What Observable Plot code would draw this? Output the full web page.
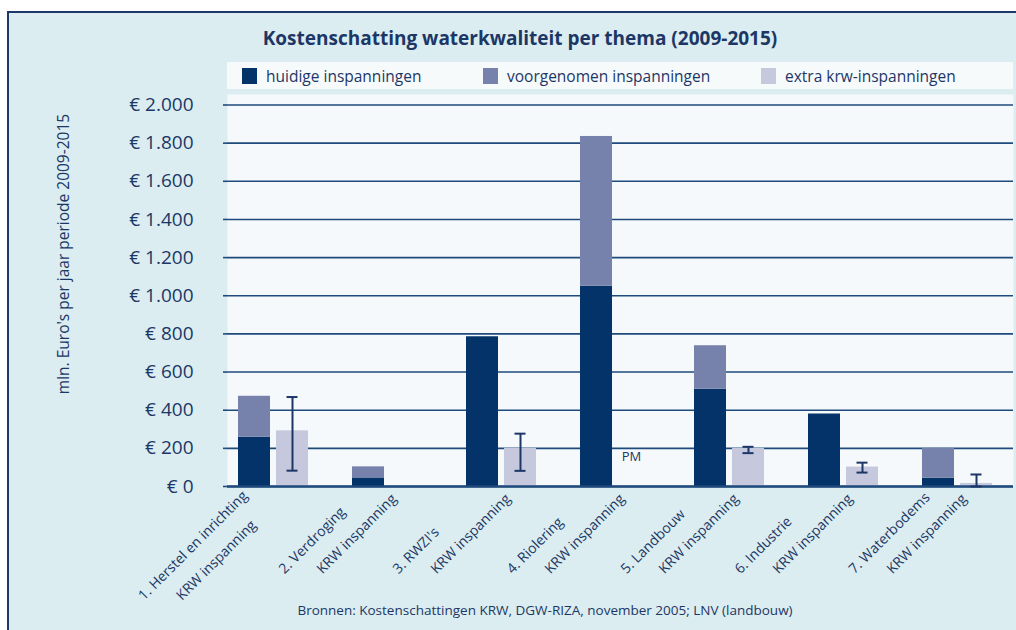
<!DOCTYPE html>
<html>
<head>
<meta charset="utf-8">
<script src="https://cdn.jsdelivr.net/npm/d3@7"></script>
<script src="https://cdn.jsdelivr.net/npm/@observablehq/plot@0.6"></script>
<style>
  body { margin: 0; width: 1016px; height: 630px; overflow: hidden; background: #fff; position: relative; font-family: "Open Sans", sans-serif; color: #1c3766; }
  #bg { position: absolute; left: 7px; top: 11px; width: 1030px; height: 640px; border: 2px solid #1b3a6b; background: #dbedf0; box-sizing: border-box; }
  #title { position: absolute; left: 0; width: 1040px; top: 24px; text-align: center; font-family: "Open Sans", sans-serif; font-weight: bold; font-size: 19px; line-height: 28px; color: #1c3766; }
  #legend { position: absolute; left: 227px; top: 62px; width: 786px; height: 27px; background: #f7fafb; }
  .item { position: absolute; top: 0; height: 27px; display: flex; align-items: center; font-family: "Open Sans", sans-serif; font-size: 15.5px; color: #1c3766; white-space: nowrap; }
  .sw { width: 15px; height: 16px; margin-right: 9px; }
  #ylabel { position: absolute; left: 63px; top: 254px; transform: translate(-50%, -50%) rotate(-90deg); white-space: nowrap; font-size: 15.5px; color: #1c3766; }
  #chart { position: absolute; left: 0; top: 94px; }
  #caption { position: absolute; left: 0; width: 1090px; top: 601px; text-align: center; font-size: 13.5px; color: #1c3766; }
</style>
</head>
<body>
<div id="bg"></div>
<div id="title">Kostenschatting waterkwaliteit per thema (2009-2015)</div>
<div id="legend"></div>
<div id="ylabel">mln. Euro's per jaar periode 2009-2015</div>
<div id="chart"></div>
<div id="caption">Bronnen: Kostenschattingen KRW, DGW-RIZA, november 2005; LNV (landbouw)</div>
<script>
// ---- data ----
const themes = ["1. Herstel en inrichting", "2. Verdroging", "3. RWZI's", "4. Riolering", "5. Landbouw", "6. Industrie", "7. Waterbodems"];
const krwLabel = "KRW inspanning";
const huidige = [258, 45, 785, 1050, 510, 380, 43];
const voorgenomen = [215, 58, 0, 785, 228, 0, 157];
const extra = [292, null, 200, null, 200, 102, 16];
const errLow = [83, null, 82, null, 175, 73, 0];
const errHigh = [469, null, 277, null, 208, 125, 63];
const pmText = [null, null, null, "PM", null, null, null];
const series = ["huidige inspanningen", "voorgenomen inspanningen", "extra krw-inspanningen"];
const colors = ["#04336a", "#7682ab", "#c6c9dd"];
const yTicks = [0, 200, 400, 600, 800, 1000, 1200, 1400, 1600, 1800, 2000];

const navy = "#1c3766";
const gridColor = "#1f4a7c";

// ---- legend ----
const legendLefts = [15, 256, 534];
const legend = document.getElementById("legend");
series.forEach((s, i) => {
  const it = document.createElement("div");
  it.className = "item";
  it.style.left = legendLefts[i] + "px";
  it.innerHTML = `<div class="sw" style="background:${colors[i]}"></div><span>${s}</span>`;
  legend.appendChild(it);
});

// ---- build tables ----
const krwKey = i => themes[i] + "|KRW";
const spacerKey = i => "spacer" + i;
const xDomain = themes.flatMap((t, i) => i < themes.length - 1 ? [t, krwKey(i), spacerKey(i)] : [t, krwKey(i)]);

const stackRows = themes.flatMap((t, i) => [
  {key: t, series: series[0], value: huidige[i]},
  {key: t, series: series[1], value: voorgenomen[i]}
]);
const extraRows = themes.map((t, i) => ({key: krwKey(i), series: series[2], value: extra[i]})).filter(d => d.value != null);
const errRows = themes.map((t, i) => ({key: krwKey(i), lo: errLow[i], hi: errHigh[i]})).filter(d => d.lo != null);
const pmRows = themes.map((t, i) => ({key: krwKey(i), text: pmText[i]})).filter(d => d.text);

const nl = d3.formatLocale({decimal: ",", thousands: ".", grouping: [3], currency: ["€", ""]});
const fmt = nl.format(",");

// label measuring, to push very long labels down like the original
const ctx = document.createElement("canvas").getContext("2d");
ctx.font = "14px 'Open Sans'";
const textLen = s => ctx.measureText(s).width;

const labelMarks = themes.map((t, i) => {
  const shift = Math.max(0, Math.max(textLen(t), textLen(krwLabel)) - 110);
  const d = shift * Math.SQRT1_2;
  return Plot.text([{key: t, text: t}, {key: krwKey(i), text: krwLabel}], {
    x: "key", text: "text", frameAnchor: "bottom", rotate: -45, textAnchor: "start",
    dx: -84 - d, dy: 88 + d, fontSize: 14, fill: navy
  });
});

const chart = Plot.plot({
  width: 1016,
  height: 536,
  marginTop: 0,
  marginBottom: 144,
  marginLeft: 227,
  marginRight: 3,
  style: {fontFamily: "Open Sans, sans-serif", color: navy, background: "transparent", overflow: "visible"},
  x: {domain: xDomain, axis: null, paddingInner: 0.147, paddingOuter: 0.233, align: 0.35},
  y: {domain: [0, 2055]},
  color: {domain: series, range: colors},
  marks: [
    Plot.frame({fill: "#f6f9fb", stroke: "none"}),
    Plot.ruleY(yTicks, {stroke: gridColor, strokeWidth: 1.6}),
    Plot.axisY({ticks: yTicks, tickFormat: d => "€ " + fmt(d), tickSize: 4, tickPadding: 30, fontSize: 19, label: null, stroke: gridColor, strokeWidth: 1.6, fill: navy}),
    Plot.barY(stackRows, {x: "key", y: "value", fill: "series"}),
    Plot.barY(extraRows, {x: "key", y: "value", fill: "series"}),
    Plot.ruleY([0], {stroke: gridColor, strokeWidth: 2.4}),
    Plot.ruleX(errRows, {x: "key", y1: "lo", y2: "hi", stroke: navy, strokeWidth: 2}),
    Plot.tickY(errRows, {x: "key", y: "lo", stroke: navy, strokeWidth: 2, insetLeft: 10.5, insetRight: 10.5}),
    Plot.tickY(errRows, {x: "key", y: "hi", stroke: navy, strokeWidth: 2, insetLeft: 10.5, insetRight: 10.5}),
    Plot.text(pmRows, {x: "key", y: 0, text: "text", dy: -30, dx: -3, fontSize: 13, fill: navy}),
    ...labelMarks
  ]
});
document.getElementById("chart").appendChild(chart);
</script>
</body>
</html>
